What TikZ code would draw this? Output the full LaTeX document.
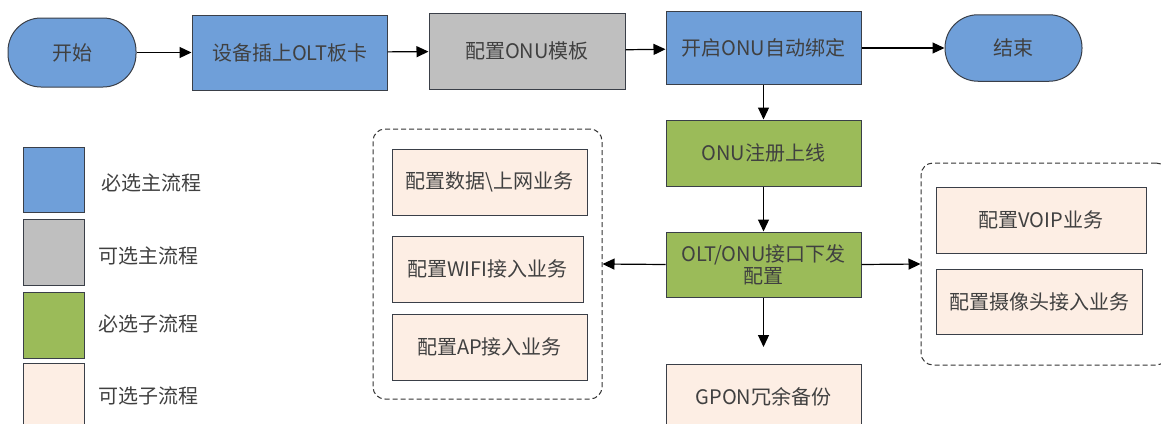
\documentclass[tikz,border=0pt]{standalone}
\usepackage{fontspec}
\setmainfont{Noto Sans CJK SC}
\usetikzlibrary{arrows.meta}
\definecolor{cblue}{HTML}{6F9FD9}
\definecolor{cgray}{HTML}{BFBFBF}
\definecolor{cgreen}{HTML}{9BBB59}
\definecolor{cpeach}{HTML}{FDEEE4}
\definecolor{ctext}{HTML}{404040}
\definecolor{cborder}{HTML}{3A3F48}
\tikzset{
  x=1pt, y=1pt,
  every node/.style={font=\fontsize{20}{24}\selectfont, text=ctext, inner sep=0pt},
  box/.style={draw=cborder, line width=1pt, rectangle, align=center},
  term/.style={box, rounded corners=33pt},
  grp/.style={draw=black!80, dash pattern=on 5pt off 3pt, line width=1pt, rounded corners=12pt},
  arr/.style={line width=1.2pt, -{Triangle[length=12pt,width=11pt]}},
}
\begin{document}
\begin{tikzpicture}
\useasboundingbox (0,0) rectangle (1161,-423);
\clip (0,0) rectangle (1161,-423);
% main flow
\node[term, fill=cblue, minimum width=128, minimum height=69] (start) at (72,-52.5) {开始};
\node[box, fill=cblue, minimum width=195, minimum height=75] (dev) at (289.5,-52.5) {设备插上OLT板卡};
\node[box, fill=cgray, minimum width=196, minimum height=76] (tmpl) at (527,-51) {配置ONU模板};
\node[box, fill=cblue, minimum width=195, minimum height=72.5] (bind) at (763.5,-48) {开启ONU自动绑定};
\node[term, fill=cblue, minimum width=137, minimum height=66.5] (end) at (1013.5,-48) {结束};
\node[box, fill=cgreen, minimum width=195, minimum height=66] (reg) at (763.5,-153) {ONU注册上线};
\node[box, fill=cgreen, minimum width=195, minimum height=65, text width=185] (cfg) at (763.5,-264.5) {OLT/ONU接口下发\\[-2pt]配置};
\node[box, fill=cpeach, minimum width=195, minimum height=66] (gpon) at (763.5,-397) {GPON冗余备份};
\coordinate (gponin) at (763.5,-347);
% left group
\node[grp, minimum width=229, minimum height=270] (lgrp) at (487.5,-264) {};
\node[box, fill=cpeach, minimum width=195, minimum height=66] (data) at (489.5,-182) {配置数据\textbackslash 上网业务};
\node[box, fill=cpeach, minimum width=191, minimum height=66] (wifi) at (487.5,-269) {配置WIFI接入业务};
\node[box, fill=cpeach, minimum width=195, minimum height=66] (ap) at (489.5,-347) {配置AP接入业务};
% right group
\node[grp, minimum width=247, minimum height=202] (rgrp) at (1044.5,-264) {};
\node[box, fill=cpeach, minimum width=210, minimum height=66] (voip) at (1041,-220) {配置VOIP业务};
\node[box, fill=cpeach, minimum width=206, minimum height=65] (cam) at (1039,-301.5) {配置摄像头接入业务};
% legend
\node[box, fill=cblue, minimum width=61, minimum height=65] (lg1) at (53.5,-179.5) {};
\node[box, fill=cgray, minimum width=61, minimum height=66] (lg2) at (53.5,-252) {};
\node[box, fill=cgreen, minimum width=61, minimum height=66] (lg3) at (53.5,-325) {};
\node[box, fill=cpeach, minimum width=61, minimum height=66] (lg4) at (53.5,-396) {};
\node (lt1) at (151,-183) {必选主流程};
\node (lt2) at (148,-256) {可选主流程};
\node (lt3) at (148,-324) {必选子流程};
\node (lt4) at (148,-396) {可选子流程};
% connectors
\draw[arr] (start) -- (dev);
\draw[arr] (dev) -- (tmpl);
\draw[arr] (tmpl) -- (bind);
\draw[arr] (bind) -- (end);
\draw[arr] (bind) -- (reg);
\draw[arr] (reg) -- (cfg);
\draw[arr] (cfg.west) -- (lgrp.east);
\draw[arr] (cfg.east) -- (rgrp.west);
\draw[arr] (cfg) -- (gponin);
\end{tikzpicture}
\end{document}
